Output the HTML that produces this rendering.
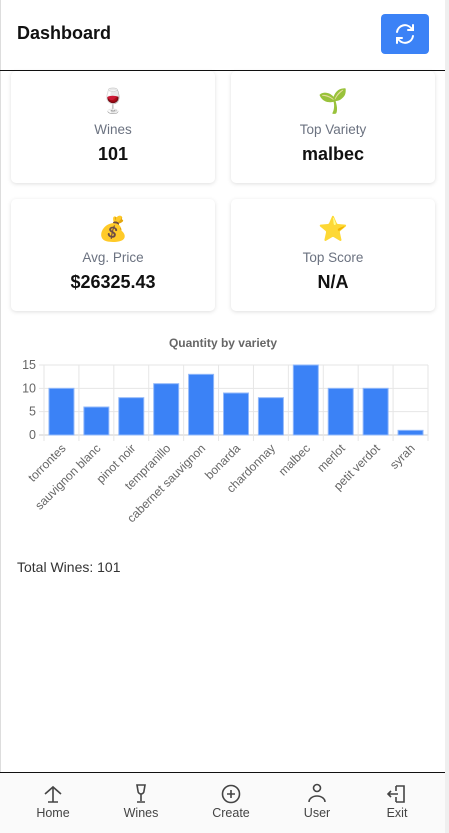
<!DOCTYPE html>
<html><head><meta charset="utf-8"><style>
*{box-sizing:border-box;margin:0;padding:0}
body{width:449px;height:833px;overflow:hidden;background:#fff;font-family:"Liberation Sans","DejaVu Sans",sans-serif;position:relative}
.frame{position:absolute;left:0;top:0;width:445px;height:833px;border-left:1px solid #ddd;background:#fff}
.sb{position:absolute;left:445px;top:0;width:4px;height:833px;background:#efefef}
.hdr{position:absolute;left:0;top:0;width:445px;height:71px;border-bottom:1.5px solid #111}
.hdr h1{position:absolute;left:17px;top:23px;font-size:18px;font-weight:bold;color:#111;font-family:"Liberation Sans",sans-serif}
.btn{position:absolute;left:381px;top:14px;width:48px;height:40px;background:#3b82f6;border-radius:4px}
.card{position:absolute;width:204px;height:112px;background:#fff;border-radius:5px;box-shadow:0 1px 4px rgba(0,0,0,.13);text-align:center}
.card .ic{position:absolute;left:0;width:100%;top:16px;font-size:24px;line-height:30px}
.card .lb{position:absolute;left:0;width:100%;top:51px;font-size:13.5px;color:#6b7280}
.card .vl{position:absolute;left:0;width:100%;top:73px;font-size:18px;font-weight:bold;color:#111}
.total{position:absolute;left:17px;top:559px;font-size:14px;color:#333}
.nav{position:absolute;left:0;top:772px;width:445px;height:61px;border-top:1.5px solid #111;background:#fafafa}
.ni{position:absolute;top:0;width:60px;height:60px;text-align:center}
.ni svg{position:absolute;left:19px;top:10px}
.ni span{position:absolute;left:0;width:100%;top:33px;font-size:12.5px;color:#444}
</style></head><body>
<div class="frame"></div>
<div class="sb"></div>
<div class="hdr">
<h1>Dashboard</h1>
<div class="btn">
<svg width="48" height="40" viewBox="0 0 48 40"><g fill="none" stroke="#fff" stroke-width="2" stroke-linecap="round"><path d="M16 18a8 8 0 0 1 14-4l2 2"/><path d="M32 11v5h-5"/><path d="M32 22a8 8 0 0 1-14 4l-2-2"/><path d="M16 29v-5h5"/></g></svg>
</div></div>
<div class="card" style="left:11px;top:71px"><div class="ic">🍷</div><div class="lb">Wines</div><div class="vl">101</div></div>
<div class="card" style="left:231px;top:71px"><div class="ic">🌱</div><div class="lb">Top Variety</div><div class="vl">malbec</div></div>
<div class="card" style="left:11px;top:199px"><div class="ic">💰</div><div class="lb">Avg. Price</div><div class="vl">$26325.43</div></div>
<div class="card" style="left:231px;top:199px"><div class="ic">⭐</div><div class="lb">Top Score</div><div class="vl">N/A</div></div>
<svg id="chart" style="position:absolute;left:0;top:330px" width="445" height="200"></svg>
<div class="total">Total Wines: 101</div>
<div class="nav">
<div class="ni" style="left:23px"><svg width="22" height="22" viewBox="0 0 22 22" fill="none" stroke="#444" stroke-width="1.6"><path d="M3 11l8-7 8 7"/><path d="M11 5v14M6 19h10"/></svg><span>Home</span></div>
<div class="ni" style="left:111px"><svg width="22" height="22" viewBox="0 0 22 22" fill="none" stroke="#444" stroke-width="1.6"><path d="M7 2h8l-1 6a3 3 0 0 1-6 0z"/><path d="M11 11v7M7 19h8"/></svg><span>Wines</span></div>
<div class="ni" style="left:201px"><svg width="22" height="22" viewBox="0 0 22 22" fill="none" stroke="#444" stroke-width="1.6"><circle cx="11" cy="11" r="8.5"/><path d="M11 7v8M7 11h8"/></svg><span>Create</span></div>
<div class="ni" style="left:287px"><svg width="22" height="22" viewBox="0 0 22 22" fill="none" stroke="#444" stroke-width="1.6"><circle cx="11" cy="5" r="3.5"/><path d="M3 19a8 6 0 0 1 16 0"/></svg><span>User</span></div>
<div class="ni" style="left:367px"><svg width="22" height="22" viewBox="0 0 22 22" fill="none" stroke="#444" stroke-width="1.6"><path d="M10 3h8v16h-8M10 3v5M10 19v-5"/><path d="M2 11h10M5 8l-3 3 3 3"/></svg><span>Exit</span></div>
</div>
<script>
const categories=["torrontes","sauvignon blanc","pinot noir","tempranillo","cabernet sauvignon","bonarda","chardonnay","malbec","merlot","petit verdot","syrah"];
const quantities=[10,6,8,11,13,9,8,15,10,10,1];
const yTicks=[0,5,10,15];
const svg=document.getElementById('chart');
const NS='http://www.w3.org/2000/svg';
const L=44,R=428,T0=105,B0=35,maxY=15;
const cw=(R-L)/categories.length;
const y=v=>T0-(v/maxY)*(T0-B0);
const x=i=>L+cw*i;
function mk(t,a){const e=document.createElementNS(NS,t);for(const k in a)e.setAttribute(k,a[k]);svg.appendChild(e);return e;}
const title=mk('text',{x:223,y:17,'text-anchor':'middle','font-size':12,'font-weight':'bold',fill:'#666','font-family':'Liberation Sans,sans-serif'});
title.textContent='Quantity by variety';


yTicks.forEach(v=>{
 const g=mk('line',{x1:L-5,x2:R,y1:y(v),y2:y(v),stroke:v===0?'#ccc':'#e6e6e6'});
 
 
 const t=mk('text',{x:L-8,y:y(v)+4,'text-anchor':'end','font-size':12.5,fill:'#666','font-family':'Liberation Sans,sans-serif'});
 t.textContent=v;
 
 
});
for(let i=0;i<=categories.length;i++){
 const g=mk('line',{x1:x(i),x2:x(i),y1:B0,y2:y(0)+6,stroke:'#e6e6e6'});
 
 
}
categories.forEach((c,i)=>{
 const bw=25,bx=x(i)+(cw-bw)/2;
 const b=mk('rect',{x:bx,y:y(quantities[i]),width:bw,height:y(0)-y(quantities[i]),fill:'#3b82f6',stroke:'#93b9fa','stroke-width':1});
 
 
 const cx=x(i)+cw/2+5,cy=y(0)+14;
 const t=mk('text',{x:cx,y:cy,'text-anchor':'end','font-size':12,fill:'#666','font-family':'Liberation Sans,sans-serif',transform:`rotate(-45 ${cx} ${cy})`});
 t.textContent=c;
 
 
});
</script>
</body></html>
